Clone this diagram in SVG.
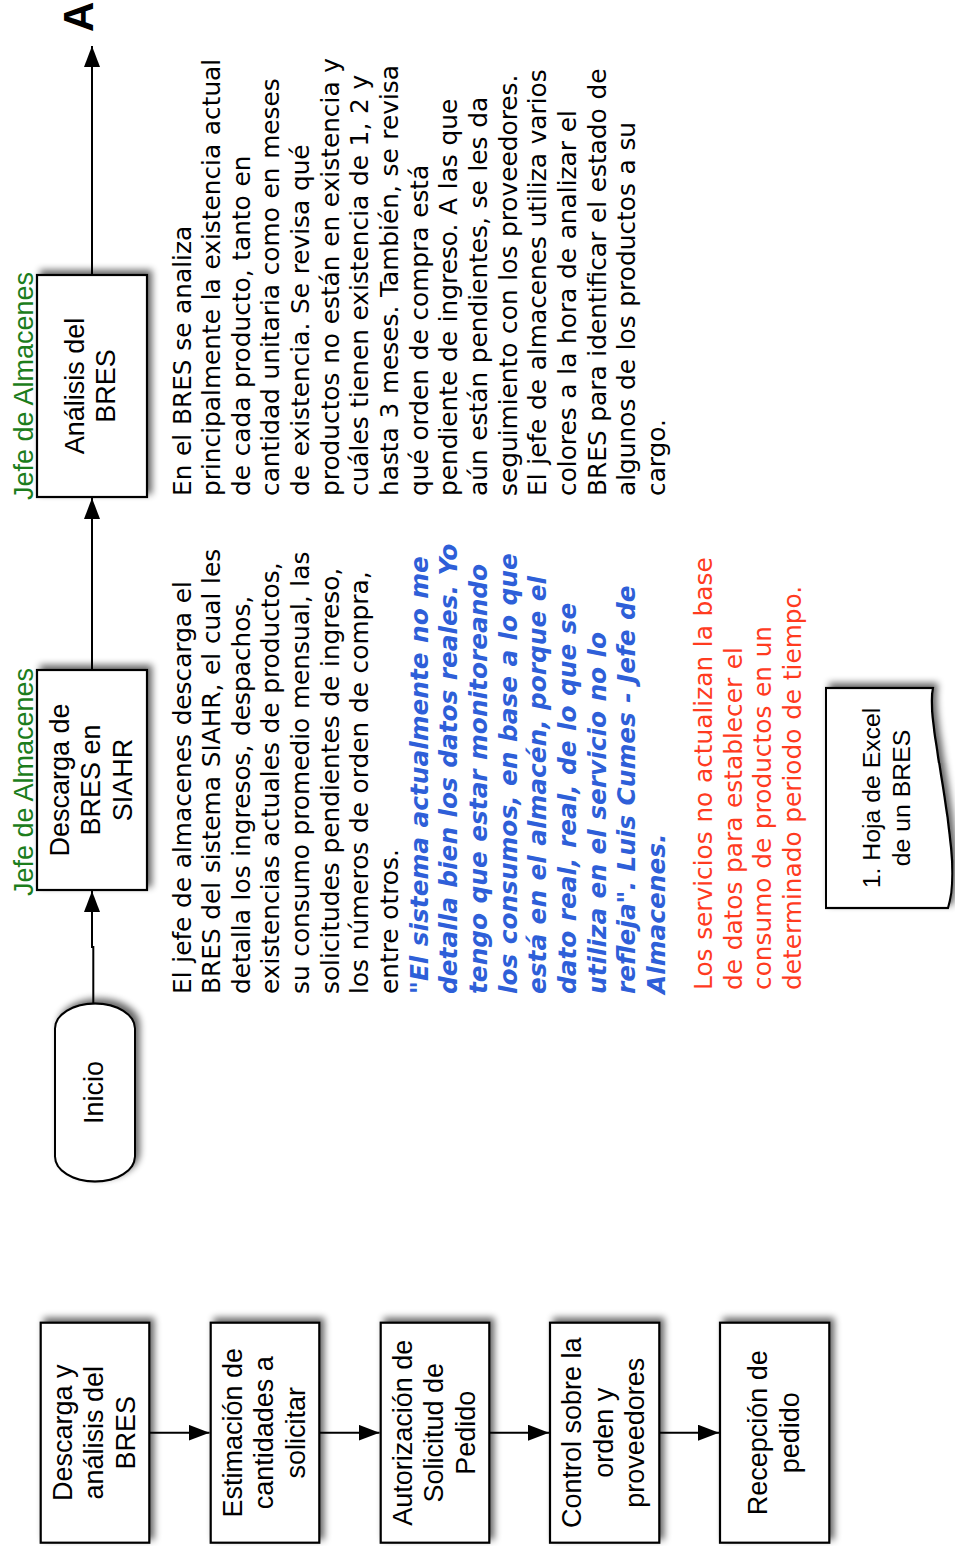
<svg xmlns="http://www.w3.org/2000/svg" width="955" height="1546" viewBox="0 0 955 1546">
  <defs>
    <style>
      .box { fill:#ffffff; stroke:#000000; stroke-width:2.2; }
      .lbl { font-family:"Liberation Sans", Arial, sans-serif; font-size:27px; text-anchor:middle; fill:#000000; }
      .doc { font-family:"Liberation Sans", Arial, sans-serif; font-size:24.8px; text-anchor:middle; fill:#000000; }
      .role { font-family:"Liberation Sans", Arial, sans-serif; font-size:27px; text-anchor:middle; fill:#1c7d1c; }
      .body { font-family:"DejaVu Sans", Verdana, sans-serif; font-size:24.8px; word-spacing:0.8px; fill:#000000; }
      .quote { font-weight:bold; font-style:italic; fill:#2e5fd8; }
      .warn { fill:#ff3b1f; }
      .conn { stroke:#000000; stroke-width:2; fill:none; marker-end:url(#arrow); }
      .off { font-family:"Liberation Sans", Arial, sans-serif; font-size:42px; font-weight:bold; fill:#000000; }
    </style>
    <marker id="arrow" markerUnits="userSpaceOnUse" markerWidth="22" markerHeight="16" refX="21" refY="8" orient="auto">
      <path d="M0,0 L21,8 L0,16 Z" fill="#000000"/>
    </marker>
    <filter id="shadow" x="-20%" y="-20%" width="150%" height="150%">
      <feGaussianBlur in="SourceAlpha" stdDeviation="3.5"/>
      <feOffset dx="4" dy="4" result="blur"/>
      <feComponentTransfer><feFuncA type="linear" slope="0.6"/></feComponentTransfer>
      <feMerge><feMergeNode/><feMergeNode in="SourceGraphic"/></feMerge>
    </filter>
  </defs>

  <rect width="955" height="1546" fill="#ffffff"/>

  <!-- whole sheet is laid out in landscape and turned a quarter turn -->
  <g transform="translate(0,1546) rotate(-90)">

    <!-- connectors -->
    <g id="connectors">
      <path class="conn" d="M542.7,93.3 L599,93.3 L599,92 L655,92"/>
      <path class="conn" d="M876,92 L1048,92"/>
      <path class="conn" d="M1271,92 L1500,92"/>
      <path class="conn" d="M113.3,149.3 L113.3,209.5"/>
      <path class="conn" d="M113.3,319.3 L113.3,379.5"/>
      <path class="conn" d="M113.3,489.3 L113.3,549"/>
      <path class="conn" d="M113.3,659.3 L113.3,719"/>
    </g>

    <!-- overview strip -->
    <g id="resumen-descarga">
      <rect class="box" filter="url(#shadow)" x="3.3" y="40.7" width="220" height="108.6"/>
      <text class="lbl" x="113.3" y="71.5">Descarga y</text>
      <text class="lbl" x="113.3" y="103">análisis del</text>
      <text class="lbl" x="113.3" y="134.5">BRES</text>
    </g>
    <g id="resumen-estimacion">
      <rect class="box" filter="url(#shadow)" x="3.3" y="210.7" width="220" height="108.6"/>
      <text class="lbl" x="113.3" y="241.5">Estimación de</text>
      <text class="lbl" x="113.3" y="273">cantidades a</text>
      <text class="lbl" x="113.3" y="304.5">solicitar</text>
    </g>
    <g id="resumen-autorizacion">
      <rect class="box" filter="url(#shadow)" x="3.3" y="380.7" width="220" height="108.6"/>
      <text class="lbl" x="113.3" y="411.5">Autorización de</text>
      <text class="lbl" x="113.3" y="443">Solicitud de</text>
      <text class="lbl" x="113.3" y="474.5">Pedido</text>
    </g>
    <g id="resumen-control">
      <rect class="box" filter="url(#shadow)" x="3.3" y="550" width="220" height="109.3"/>
      <text class="lbl" x="113.3" y="581">Control sobre la</text>
      <text class="lbl" x="113.3" y="612.5">orden y</text>
      <text class="lbl" x="113.3" y="644">proveedores</text>
    </g>
    <g id="resumen-recepcion">
      <rect class="box" filter="url(#shadow)" x="3.3" y="720" width="220" height="109.3"/>
      <text class="lbl" x="113.3" y="767">Recepción de</text>
      <text class="lbl" x="113.3" y="798.5">pedido</text>
    </g>

    <!-- detailed flow -->
    <g id="inicio">
      <rect class="box" filter="url(#shadow)" x="364.5" y="55" width="178" height="80" rx="25" ry="40"/>
      <text class="lbl" x="453.5" y="103">Inicio</text>
    </g>

    <g id="descarga-bres">
      <text class="role" x="764" y="33">Jefe de Almacenes</text>
      <rect class="box" filter="url(#shadow)" x="656" y="37" width="220" height="110"/>
      <text class="lbl" x="766" y="68.5">Descarga de</text>
      <text class="lbl" x="766" y="100">BRES en</text>
      <text class="lbl" x="766" y="131.5">SIAHR</text>
    </g>

    <g id="analisis-bres">
      <text class="role" x="1160" y="33">Jefe de Almacenes</text>
      <rect class="box" filter="url(#shadow)" x="1049" y="37" width="222" height="110"/>
      <text class="lbl" x="1160" y="83.5">Análisis del</text>
      <text class="lbl" x="1160" y="115">BRES</text>
    </g>

    <g id="conector-a">
      <text class="off" x="1514" y="93">A</text>
    </g>

    <!-- description of the download step -->
    <g id="nota-descarga" class="body">
      <text x="552" y="190.5">El jefe de almacenes descarga el</text>
      <text x="552" y="220.15">BRES del sistema SIAHR, el cual les</text>
      <text x="552" y="249.8">detalla los ingresos, despachos,</text>
      <text x="552" y="279.45">existencias actuales de productos,</text>
      <text x="552" y="309.1">su consumo promedio mensual, las</text>
      <text x="552" y="338.75">solicitudes pendientes de ingreso,</text>
      <text x="552" y="368.4">los números de orden de compra,</text>
      <text x="552" y="398.05">entre otros.</text>
      <g class="quote">
        <text x="552" y="427.7">"El sistema actualmente no me</text>
        <text x="552" y="457.35">detalla bien los datos reales. Yo</text>
        <text x="552" y="487">tengo que estar monitoreando</text>
        <text x="552" y="516.65">los consumos, en base a lo que</text>
        <text x="552" y="546.3">está en el almacén, porque el</text>
        <text x="552" y="575.95">dato real, real, de lo que se</text>
        <text x="552" y="605.6">utiliza en el servicio no lo</text>
        <text x="552" y="635.25">refleja". Luis Cumes - Jefe de</text>
        <text x="552" y="664.9">Almacenes.</text>
      </g>
      <g class="warn">
        <text x="556" y="712">Los servicios no actualizan la base</text>
        <text x="556" y="741.5">de datos para establecer el</text>
        <text x="556" y="771">consumo de productos en un</text>
        <text x="556" y="800.5">determinado periodo de tiempo.</text>
      </g>
    </g>

    <g id="hoja-excel">
      <path class="box" filter="url(#shadow)" d="M638,826 L858,826 L858,933 C820,925 690,965 638,948 Z"/>
      <text class="doc" x="748" y="880">1. Hoja de Excel</text>
      <text class="doc" x="748" y="909.5">de un BRES</text>
    </g>

    <!-- description of the analysis step -->
    <g id="nota-analisis" class="body">
      <text x="1050" y="190.5">En el BRES se analiza</text>
      <text x="1050" y="220.15">principalmente la existencia actual</text>
      <text x="1050" y="249.8">de cada producto, tanto en</text>
      <text x="1050" y="279.45">cantidad unitaria como en meses</text>
      <text x="1050" y="309.1">de existencia. Se revisa qué</text>
      <text x="1050" y="338.75">productos no están en existencia y</text>
      <text x="1050" y="368.4">cuáles tienen existencia de 1, 2 y</text>
      <text x="1050" y="398.05">hasta 3 meses. También, se revisa</text>
      <text x="1050" y="427.7">qué orden de compra está</text>
      <text x="1050" y="457.35">pendiente de ingreso. A las que</text>
      <text x="1050" y="487">aún están pendientes, se les da</text>
      <text x="1050" y="516.65">seguimiento con los proveedores.</text>
      <text x="1050" y="546.3">El jefe de almacenes utiliza varios</text>
      <text x="1050" y="575.95">colores a la hora de analizar el</text>
      <text x="1050" y="605.6">BRES para identificar el estado de</text>
      <text x="1050" y="635.25">algunos de los productos a su</text>
      <text x="1050" y="664.9">cargo.</text>
    </g>
  </g>
</svg>
